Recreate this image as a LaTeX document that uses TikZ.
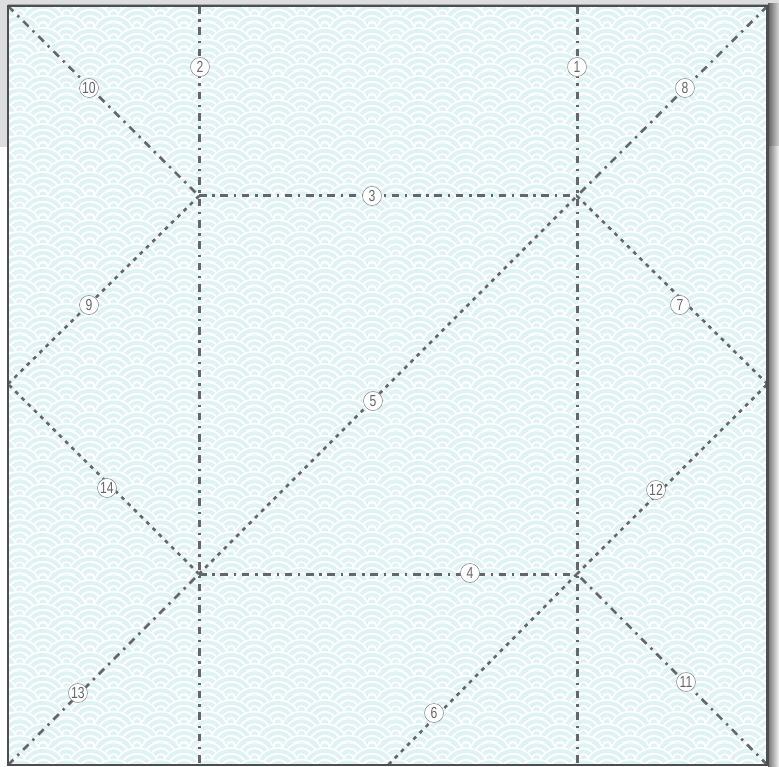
\documentclass[tikz,border=0pt]{standalone}
\usepackage{fontspec}
\usetikzlibrary{patterns}
\newfontfamily\labfont[FakeStretch=0.76]{Liberation Sans}
\definecolor{seablue}{HTML}{DFF2F4}
\definecolor{foldgray}{HTML}{646769}
\definecolor{framegray}{HTML}{4C4E50}
\definecolor{bandgray}{HTML}{DCDDDF}
\newcommand{\waverings}[2]{%
  \pgfsetcolor{white}%
  \pgfpathcircle{\pgfpoint{#1}{#2}}{23.65pt}\pgfusepath{fill}%
  \pgfsetcolor{seablue}%
  \pgfseteorule
  \pgfpathcircle{\pgfpoint{#1}{#2}}{21.8pt}%
  \pgfpathcircle{\pgfpoint{#1}{#2}}{17.8pt}%
  \pgfpathcircle{\pgfpoint{#1}{#2}}{15.6pt}%
  \pgfpathcircle{\pgfpoint{#1}{#2}}{11.6pt}%
  \pgfpathcircle{\pgfpoint{#1}{#2}}{9.4pt}%
  \pgfpathcircle{\pgfpoint{#1}{#2}}{5.6pt}%
  \pgfpathcircle{\pgfpoint{#1}{#2}}{3.5pt}%
  \pgfusepath{fill}%
}
\newcommand{\waverow}[2]{%
  \waverings{#1pt-47.3pt}{#2pt}\waverings{#1pt}{#2pt}\waverings{#1pt+47.3pt}{#2pt}%
}
\pgfdeclarepatterninherentlycolored{seigaiha}{\pgfpointorigin}{\pgfpoint{47.3pt}{24pt}}{\pgfpoint{47.3pt}{24pt}}{%
  \pgfsetcolor{seablue}%
  \pgfpathrectangle{\pgfpointorigin}{\pgfpoint{47.3pt}{24pt}}\pgfusepath{fill}%
  \waverow{43.5}{45}%
  \waverow{19.85}{33}%
  \waverow{43.5}{21}%
  \waverow{19.85}{9}%
  \waverow{43.5}{-3}%
  \waverow{19.85}{-15}%
}
\tikzset{
  mountain/.style={draw=foldgray,line width=3pt,dash pattern=on 7.6pt off 5.7pt on 2.4pt off 5.7pt},
  mountaind/.style={draw=foldgray,line width=2.6pt,dash pattern=on 7.6pt off 5.7pt on 2.4pt off 5.7pt},
  valley/.style={draw=foldgray,line width=2.6pt,dash pattern=on 3.8pt off 5pt},
  steplabel/.style={circle,draw=foldgray!80,line width=0.5pt,fill=white,minimum size=19pt,inner sep=0pt,text=foldgray,font=\labfont\fontsize{16}{16}\selectfont}
}
\begin{document}
\begin{tikzpicture}[x=1pt,y=-1pt]
\useasboundingbox (0,0) rectangle (779,767);
% backdrop
\fill[white] (0,0) rectangle (779,767);
\fill[bandgray] (0,0) rectangle (779,147);
\fill[black!35] (8,4) rectangle (769,5.2);
% shadow on the right
\shade[left color=black!62,right color=black!16] (768,4) rectangle (779,147);
\shade[left color=black!55,right color=black!3] (768,147) rectangle (779,767);
% wave pattern
\fill[pattern=seigaiha] (8,6) rectangle (767,765);
% fold points
\coordinate (tl) at (8,6);
\coordinate (tr) at (767.5,6);
\coordinate (bl) at (8,765);
\coordinate (br) at (767.5,765);
\coordinate (top2) at (199,6);
\coordinate (top1) at (577,6);
\coordinate (bot2) at (199,765);
\coordinate (bot1) at (577,765);
\coordinate (botm) at (388,765);
\coordinate (lm) at (8,384);
\coordinate (rm) at (767.5,384);
\coordinate (a) at (199,196);
\coordinate (b) at (577,196);
\coordinate (c) at (199,574);
\coordinate (d) at (577,574);
% mountain folds
\draw[mountain] (top1) -- (bot1);
\draw[mountain] (top2) -- (bot2);
\draw[mountain] (a) -- (b);
\draw[mountain] (c) -- (d);
\draw[mountaind] (tr) -- (b);
\draw[mountaind] (tl) -- (a);
\draw[mountaind] (br) -- (d);
\draw[mountaind] (bl) -- (c);
% valley folds
\draw[valley] (c) -- (b);
\draw[valley] (d) -- (botm);
\draw[valley] (b) -- (rm);
\draw[valley] (a) -- (lm);
\draw[valley] (d) -- (rm);
\draw[valley] (c) -- (lm);
% frame
\draw[framegray,line width=2.4pt] (tl) rectangle (br);
% labels
\node[steplabel] (n1) at (577,67) {1};
\node[steplabel] (n2) at (200,67) {2};
\node[steplabel] (n3) at (372,196) {3};
\node[steplabel] (n4) at (470,573) {4};
\node[steplabel] (n5) at (373,401) {5};
\node[steplabel] (n6) at (434,713) {6};
\node[steplabel] (n7) at (680,305) {7};
\node[steplabel] (n8) at (685,88) {8};
\node[steplabel] (n9) at (89,305) {9};
\node[steplabel] (n10) at (89,88) {10};
\node[steplabel] (n11) at (686,682) {11};
\node[steplabel] (n12) at (656,490) {12};
\node[steplabel] (n13) at (78,693) {13};
\node[steplabel] (n14) at (107,488) {14};
\end{tikzpicture}
\end{document}
